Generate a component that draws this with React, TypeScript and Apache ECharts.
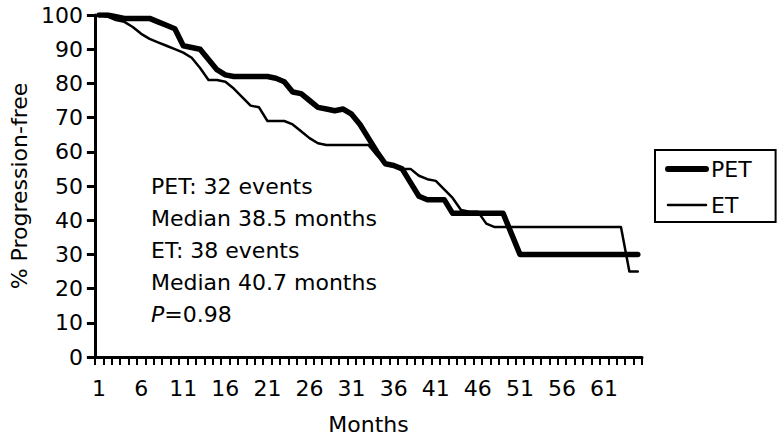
import React, { useEffect, useRef } from "react";
import * as echarts from "echarts";

const months: string[] = Array.from({ length: 65 }, (_, i) => String(i + 1));

const petValues: number[] = [
  100, 100, 99.5, 99, 99, 99, 99, 98, 97, 96,
  91, 90.5, 90, 87, 84, 82.5, 82, 82, 82, 82,
  82, 81.5, 80.5, 77.5, 77, 75, 73, 72.5, 72, 72.5,
  71, 68, 64, 60, 56.5, 56, 55, 51, 47, 46,
  46, 46, 42, 42, 42, 42, 42, 42, 42, 36,
  30, 30, 30, 30, 30, 30, 30, 30, 30, 30,
  30, 30, 30, 30, 30,
];

const etValues: number[] = [
  100, 99.5, 98.5, 98, 96.5, 94.5, 93, 92, 91, 90,
  89, 87.5, 84.5, 81, 81, 80.5, 78.5, 76, 73.5, 73,
  69, 69, 69, 68, 66, 64, 62.5, 62, 62, 62,
  62, 62, 62, 59, 56.5, 56, 55, 55, 53, 52,
  51.5, 49, 46.5, 43, 42.5, 42.5, 39, 38, 38, 38,
  38, 38, 38, 38, 38, 38, 38, 38, 38, 38,
  38, 38, 38, 25, 25,
];

const annotationLines: string[] = [
  "PET: 32 events",
  "Median 38.5 months",
  "ET: 38 events",
  "Median 40.7 months",
  "{i|P}=0.98",
];

const FONT = "DejaVu Sans";

export default function App() {
  const ref = useRef<HTMLDivElement>(null);

  useEffect(() => {
    if (!ref.current) return;
    const chart = echarts.init(ref.current, undefined, { renderer: "svg" });
    const option: any = {
      animation: false,
      backgroundColor: "#fff",
      grid: { left: 93, right: 138, top: 15, bottom: 83, containLabel: false },
      legend: {
        orient: "vertical",
        left: 655,
        top: 150,
        padding: [8, 24, 6, 10],
        itemGap: 14,
        itemWidth: 38,
        itemHeight: 6,
        borderColor: "#000",
        borderWidth: 2,
        itemStyle: { opacity: 0 },
        textStyle: { fontFamily: FONT, fontSize: 22, color: "#000" },
        data: [
          { name: "PET", lineStyle: { width: 6, color: "#000", cap: "round" } },
          { name: "ET", lineStyle: { width: 2.5, color: "#000" } },
        ],
      },
      xAxis: {
        type: "category",
        data: months,
        boundaryGap: true,
        name: "Months",
        nameLocation: "middle",
        nameGap: 56,
        nameTextStyle: { fontFamily: FONT, fontSize: 22, color: "#000" },
        axisLine: { show: true, lineStyle: { color: "#000", width: 3 } },
        axisTick: { show: true, interval: 0, length: 8, lineStyle: { color: "#000", width: 2 } },
        axisLabel: { interval: 4, margin: 20, fontFamily: FONT, fontSize: 22, color: "#000" },
        splitLine: { show: false },
      },
      yAxis: {
        type: "value",
        min: 0,
        max: 100,
        interval: 10,
        name: "% Progression-free",
        nameLocation: "middle",
        nameGap: 60,
        nameTextStyle: { fontFamily: FONT, fontSize: 22, color: "#000" },
        axisLine: { show: true, lineStyle: { color: "#000", width: 3 } },
        axisTick: { show: true, length: 8, lineStyle: { color: "#000", width: 3 } },
        axisLabel: { margin: 12, fontFamily: FONT, fontSize: 22, color: "#000" },
        splitLine: { show: false },
      },
      series: [
        {
          name: "PET",
          type: "line",
          data: petValues,
          symbol: "none",
          lineStyle: { color: "#000", width: 5.5, cap: "round", join: "round" },
          itemStyle: { color: "#000" },
          z: 3,
        },
        {
          name: "ET",
          type: "line",
          data: etValues,
          symbol: "none",
          lineStyle: { color: "#000", width: 2.5, cap: "round", join: "round" },
          itemStyle: { color: "#000" },
          z: 2,
        },
      ],
      graphic: annotationLines.map((t, i) => ({
        type: "text",
        x: 151,
        y: 186 + i * 32,
        style: {
          text: t,
          fill: "#000",
          fontFamily: FONT,
          fontSize: 22,
          verticalAlign: "middle",
          rich: {
            i: { fontStyle: "italic", fontFamily: FONT, fontSize: 22, fill: "#000" },
          },
        },
      })),
    };
    chart.setOption(option);
    return () => chart.dispose();
  }, []);

  return (
    <div
      ref={ref}
      style={{ position: "fixed", left: 0, top: 0, width: 780, height: 440, background: "#fff" }}
    />
  );
}
